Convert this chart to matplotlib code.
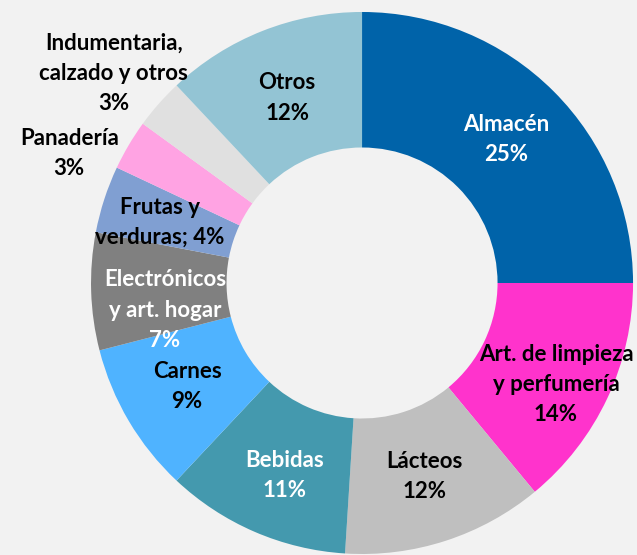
import matplotlib
matplotlib.use("Agg")
import matplotlib.pyplot as plt
import numpy as np

# ---- datos ----
categorias = ["Almacén", "Art. de limpieza\ny perfumería", "Lácteos", "Bebidas",
              "Carnes", "Electrónicos\ny art. hogar", "Frutas y\nverduras;",
              "Panadería", "Indumentaria,\ncalzado y otros", "Otros"]
valores = [25, 14, 12, 11, 9, 7, 4, 3, 3, 12]
colores = ["#0063A9", "#FF33CC", "#BFBFBF", "#4499AE", "#4FB3FF",
           "#808080", "#809FD2", "#FFA3E3", "#E0E0E0", "#93C4D4"]
color_texto = ["white", "black", "black", "white", "black",
               "white", "black", "black", "black", "black"]
sep_pct = ["\n", "\n", "\n", "\n", "\n", "\n", " ", "\n", "\n", "\n"]

# ajustes manuales de etiquetas (unidades de datos, radio = 1)
ajustes = {1: (0.037, -0.055), 3: (0.011, -0.022), 5: (0.022, -0.077),
           6: (-0.033, -0.008), 7: (-0.435, 0.097), 8: (-0.354, 0.278),
           9: (0.0, -0.015)}

BG = "#F2F2F2"
plt.rcParams["font.family"] = ["Lato", "DejaVu Sans"]

fig = plt.figure(figsize=(6.37, 5.55), dpi=100, facecolor=BG)
ax = fig.add_axes([0.1429, 0.0018, 0.8509, 0.9766])
ax.set_facecolor(BG)

wedges, _ = ax.pie(valores, colors=colores, startangle=90, counterclock=False,
                   radius=1.0, wedgeprops=dict(width=0.5, linewidth=0))

total = sum(valores)
acum = np.cumsum([0] + valores)
for i, (cat, v) in enumerate(zip(categorias, valores)):
    mid = (acum[i] + v / 2) / total * 2 * np.pi
    x = 0.75 * np.sin(mid)
    y = 0.75 * np.cos(mid)
    dx, dy = ajustes.get(i, (0, 0))
    ax.text(x + dx, y + dy, f"{cat}{sep_pct[i]}{v}%", ha="center", va="center",
            fontsize=16, fontweight="bold", color=color_texto[i], linespacing=1.55)

ax.set_xlim(-1, 1)
ax.set_ylim(-1, 1)
ax.set_aspect("equal")
ax.axis("off")

fig.savefig("out.png", dpi=100, facecolor=BG)
